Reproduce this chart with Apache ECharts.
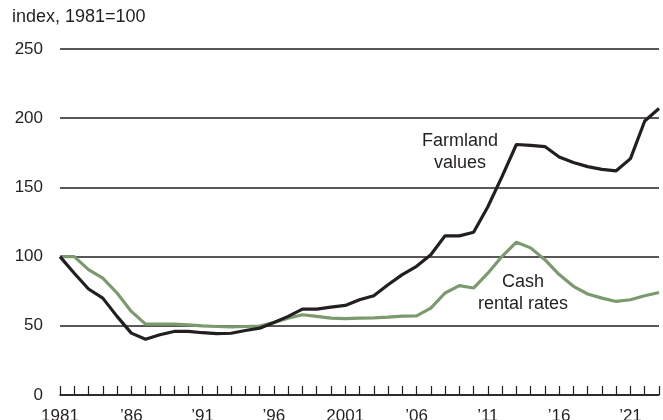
<!DOCTYPE html>
<html>
<head>
<meta charset="utf-8">
<script src="https://cdn.jsdelivr.net/npm/echarts@6/dist/echarts.min.js"></script>
<style>
  html, body { margin: 0; padding: 0; background: #fff; }
  #main { width: 663px; height: 420px; }
</style>
</head>
<body>
<div id="main"></div>
<script>
// years 1981..2023
const years = [];
for (let y = 1981; y <= 2023; y++) years.push(String(y));

// index, 1981=100
const farmlandValues = [
  100, 88, 76.6, 70, 56.8, 44.7, 40.3, 43.5, 45.9, 46,
  45, 44.4, 44.6, 46.6, 48.3, 52.4, 56.8, 62, 62, 63.5,
  64.7, 68.8, 71.7, 79.7, 87, 93, 101.4, 115, 115, 117.6,
  136, 158, 181, 180.4, 179.5, 172, 168, 165, 163, 162,
  170.8, 198, 207
];
const cashRentalRates = [
  100, 100, 90.6, 84.5, 73.7, 60.4, 51.2, 51.2, 51.2, 50.7,
  50, 49.5, 49.2, 49.5, 49.8, 52.4, 55.5, 58, 56.8, 55.5,
  55.2, 55.5, 55.7, 56.2, 57, 57.2, 62.8, 73.7, 79, 77.3,
  88, 100.2, 110.4, 106.3, 97.8, 87, 78.5, 73, 70, 67.6,
  68.8, 71.7, 74.1
];

const font = 'Liberation Sans, Arial, Helvetica, sans-serif';
const ink = '#231f20';

const chart = echarts.init(document.getElementById('main'));

const option = {
  animation: false,
  textStyle: { fontFamily: font },
  grid: { left: 60, right: 4, top: 49, bottom: 25, outerBoundsMode: 'none', containLabel: false },
  xAxis: {
    type: 'category',
    data: years,
    boundaryGap: false,
    axisLine: { lineStyle: { color: ink, width: 1.5 } },
    axisTick: { inside: true, length: 9, interval: 0, lineStyle: { color: ink, width: 1.2 } },
    axisLabel: {
      interval: 4,
      margin: 13,
      fontSize: 17,
      color: ink,
      fontFamily: font,
      formatter: function (v) {
        if (v === '1981' || v === '2001') return v;
        return '\u2019' + v.slice(2);
      }
    },
    splitLine: { show: false }
  },
  yAxis: {
    type: 'value',
    min: 0,
    max: 250,
    interval: 50,
    axisLine: { show: false },
    axisTick: { show: false },
    axisLabel: { fontSize: 17, color: ink, margin: 17, fontFamily: font },
    splitLine: { lineStyle: { color: ink, width: 1.5 } }
  },
  series: [
    {
      name: 'Cash rental rates',
      type: 'line',
      data: cashRentalRates,
      showSymbol: false,
      lineStyle: { color: '#7b9b6e', width: 3.2 },
      z: 3
    },
    {
      name: 'Farmland values',
      type: 'line',
      data: farmlandValues,
      showSymbol: false,
      lineStyle: { color: ink, width: 3.2 },
      z: 4
    }
  ],
  graphic: [
    {
      type: 'text', x: 12, y: 8,
      style: { text: 'index, 1981=100', fontSize: 18, fill: ink, fontFamily: font }
    },
    {
      type: 'text', x: 460, y: 130,
      style: { text: 'Farmland\nvalues', fontSize: 18, lineHeight: 22, fill: ink, align: 'center', verticalAlign: 'top', fontFamily: font }
    },
    {
      type: 'text', x: 523, y: 271,
      style: { text: 'Cash\nrental rates', fontSize: 18, lineHeight: 22, fill: ink, align: 'center', verticalAlign: 'top', fontFamily: font }
    }
  ]
};

chart.setOption(option);
</script>
</body>
</html>
